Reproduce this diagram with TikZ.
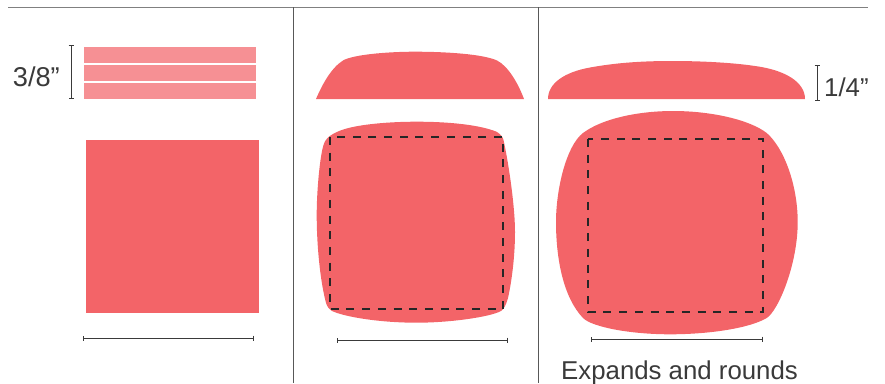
\documentclass[tikz,border=0pt]{standalone}
\usepackage{fontspec}
\setmainfont{Liberation Sans}
\usetikzlibrary{arrows.meta}
\definecolor{foamred}{HTML}{F36468}
\definecolor{strippink}{HTML}{F69094}
\definecolor{inkgray}{HTML}{3A3A3A}
\tikzset{
  rule/.style={draw=inkgray!85, line width=1pt},
  dim/.style={draw=inkgray, line width=1pt, {Bar[width=5pt,length=0pt]}-{Bar[width=5pt,length=0pt]}},
  outline/.style={draw=black!85, line width=1.1pt, dash pattern=on 8pt off 7.7pt},
  caption/.style={inkgray, inner sep=0pt, font=\fontsize{25.8}{30}\selectfont}
}

\begin{document}
\begin{tikzpicture}[x=1pt,y=-1pt]
  \useasboundingbox (0,0) rectangle (885,383);

  % Panel rules
  \draw[rule, draw=gray] (8,7) -- (868,7);
  \draw[rule] (293,7) -- (293,383);
  \draw[rule] (538,7) -- (538,383);

  % === Left: stacked strips and square ===
  \foreach \ytop in {47,65,83}
    \fill[strippink] (84,\ytop) rectangle (256,\ytop+16);
  \fill[foamred] (86,140) rectangle (259,313);
  \draw[dim] (71,45) -- (71,99);
  \node[caption, anchor=east, font=\fontsize{27.2}{30}\selectfont] (thick) at (60,77) {3/8”};
  \draw[dim] (82.5,338) -- (254,338);

  % === Middle: slumped side and top ===
  \fill[foamred] (316,99)
    .. controls (322,85) and (331,68) .. (343,60.5)
    .. controls (352,55) and (385,51.7) .. (415,51.7)
    .. controls (445,51.7) and (483,54) .. (497,60.5)
    .. controls (508,66) and (518,83) .. (524,99) -- cycle;
  \fill[foamred] (416.7,121.7)
    .. controls (385,121.7) and (352,125) .. (338,131.5)
    .. controls (331,134.8) and (326,137) .. (323.5,145)
    .. controls (320,156) and (316.7,190) .. (316.7,215)
    .. controls (316.7,245) and (320,280) .. (326,303)
    .. controls (327.5,307) and (328.5,308.5) .. (332,311)
    .. controls (345,317) and (380,322.7) .. (416.7,322.7)
    .. controls (450,322.7) and (490,317) .. (501,311)
    .. controls (504,309) and (506,305) .. (508,298)
    .. controls (512,280) and (515,255) .. (515,232)
    .. controls (515,205) and (508,160) .. (503.5,140)
    .. controls (502.5,136) and (500,134) .. (496.5,131.7)
    .. controls (480,125) and (450,121.7) .. (416.7,121.7) -- cycle;
  \draw[outline] (330,137) rectangle (503,309);
  \draw[dim] (336.5,340) -- (507.5,340);

  % === Right: expanded side and top ===
  \fill[foamred] (548,99)
    .. controls (548,83) and (565,72) .. (590,67.5)
    .. controls (615,63) and (640,61) .. (672,61)
    .. controls (705,61) and (735,63) .. (755,66)
    .. controls (785,70) and (805,82) .. (805,99) -- cycle;
  \draw[dim] (817,65) -- (817,101);
  \node[caption, anchor=west] (thin) at (824,87) {1/4”};
  \fill[foamred] (673,111)
    .. controls (640,111) and (603,118) .. (583,133)
    .. controls (566,146) and (556,190) .. (556,222)
    .. controls (556,258) and (563,297) .. (583,318)
    .. controls (592,327) and (630,334.3) .. (670,334.3)
    .. controls (710,334.3) and (750,328) .. (766.7,318)
    .. controls (778,311) and (797.7,265) .. (797.7,222)
    .. controls (797.7,185) and (784,148) .. (766.7,133)
    .. controls (750,120) and (712,111) .. (673,111) -- cycle;
  \draw[outline] (588,139) rectangle (763,312);
  \draw[dim] (591,339) -- (763,339);
  \node[caption, anchor=base west] (expands) at (561,379) {Expands and rounds};
\end{tikzpicture}
\end{document}
